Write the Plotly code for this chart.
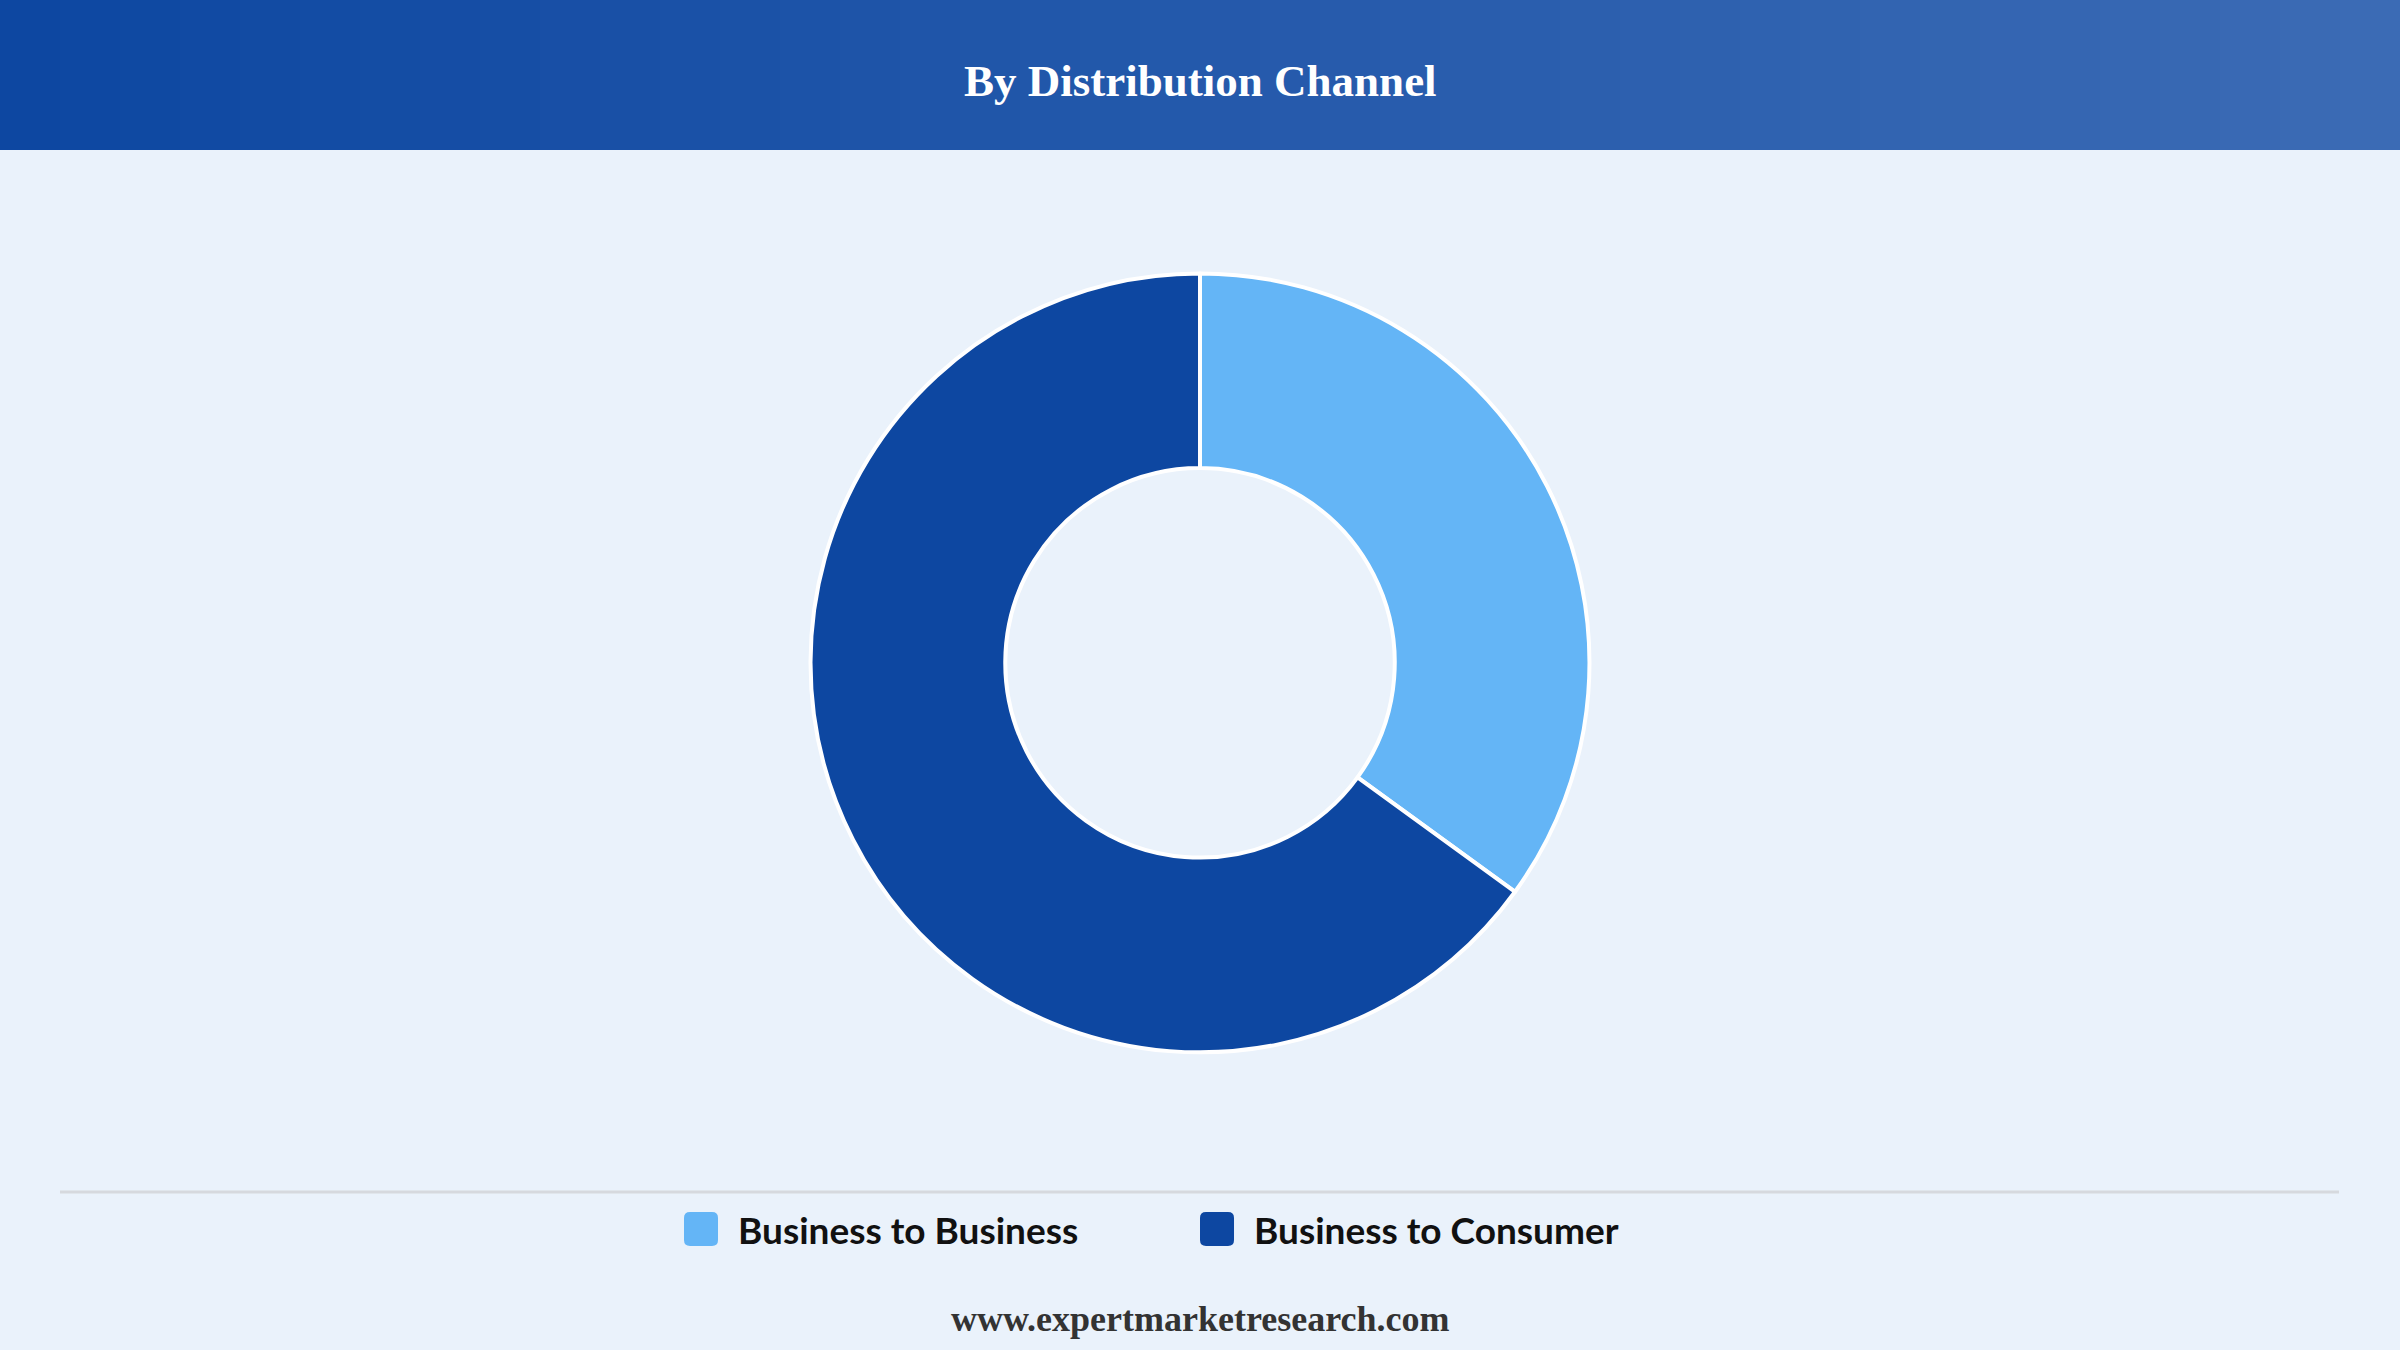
import plotly.graph_objects as go

# ---- data ----
categories = ["Business to Business", "Business to Consumer"]
shares = [35, 65]
colors = ["#64b5f6", "#0d47a1"]
title_text = "By Distribution Channel"
footer_text = "www.expertmarketresearch.com"

W, H = 2400, 1350
BG = "#eaf2fb"

fig = go.Figure()
fig.add_trace(go.Pie(
    labels=categories,
    values=shares,
    hole=0.5,
    sort=False,
    direction="clockwise",
    rotation=0,
    marker=dict(colors=colors, line=dict(color="white", width=4)),
    textinfo="none",
    hoverinfo="label+percent",
    showlegend=False,
    domain=dict(x=[0.2, 0.8], y=[0.2205, 0.7975]),
))

shapes = []
# header gradient made of thin strips
c0 = (0x0d, 0x47, 0xa1)
c1 = (0x3b, 0x6b, 0xb5)
n = 40
for i in range(n):
    t = i / (n - 1)
    col = tuple(round(a + (b - a) * t) for a, b in zip(c0, c1))
    shapes.append(dict(type="rect", xref="paper", yref="paper",
                       x0=i / n, x1=(i + 1) / n + 0.001,
                       y0=1 - 150 / H, y1=1,
                       fillcolor="rgb(%d,%d,%d)" % col, line=dict(width=0), layer="below"))
# separator line
shapes.append(dict(type="line", xref="paper", yref="paper",
                   x0=60 / W, x1=2339 / W, y0=1 - 1192 / H, y1=1 - 1192 / H,
                   line=dict(color="#d6d9de", width=3)))

annotations = [
    dict(text="<b>%s</b>" % title_text, x=0.5, y=1 - 81 / H, xref="paper", yref="paper",
         showarrow=False, font=dict(family="Liberation Serif", size=45, color="white"),
         xanchor="center", yanchor="middle"),
    dict(text="<b>%s</b>" % footer_text, x=0.5, y=1 - 1319 / H, xref="paper", yref="paper",
         showarrow=False, font=dict(family="Liberation Serif", size=36, color="#333333"),
         xanchor="center", yanchor="middle"),
]


def conv(p):
    out = []
    for tk in p.split():
        if "," in tk:
            a, b = tk.split(",")
            out.append("%.5f,%.5f" % (float(a) / W, 1 - float(b) / H))
        else:
            out.append(tk)
    return " ".join(out)


# legend (manual, rounded swatches)
legend_x = [684, 1200]
ly = 1229
sw = 34
r = 6
for cat, col, lx in zip(categories, colors, legend_x):
    x0, x1 = lx, lx + sw
    y0, y1 = ly - sw / 2, ly + sw / 2
    path = (f"M {x0+r},{y0} L {x1-r},{y0} Q {x1},{y0} {x1},{y0+r} L {x1},{y1-r} "
            f"Q {x1},{y1} {x1-r},{y1} L {x0+r},{y1} Q {x0},{y1} {x0},{y1-r} "
            f"L {x0},{y0+r} Q {x0},{y0} {x0+r},{y0} Z")
    shapes.append(dict(type="path", xref="paper", yref="paper", path=conv(path),
                       fillcolor=col, line=dict(width=0)))
    annotations.append(dict(text="<b>%s</b>" % cat, x=(x1 + 18) / W, y=1 - ly / H,
                            xref="paper", yref="paper", showarrow=False,
                            xanchor="left", yanchor="middle",
                            font=dict(family="Lato", size=37, color="#111111")))

fig.update_layout(
    width=W, height=H,
    margin=dict(l=0, r=0, t=0, b=0),
    paper_bgcolor=BG, plot_bgcolor=BG,
    shapes=shapes, annotations=annotations,
    showlegend=False,
)

fig.write_html("out.html",
               config={"displayModeBar": False},
               post_script="document.body.style.margin='0';document.body.style.overflow='hidden';")
